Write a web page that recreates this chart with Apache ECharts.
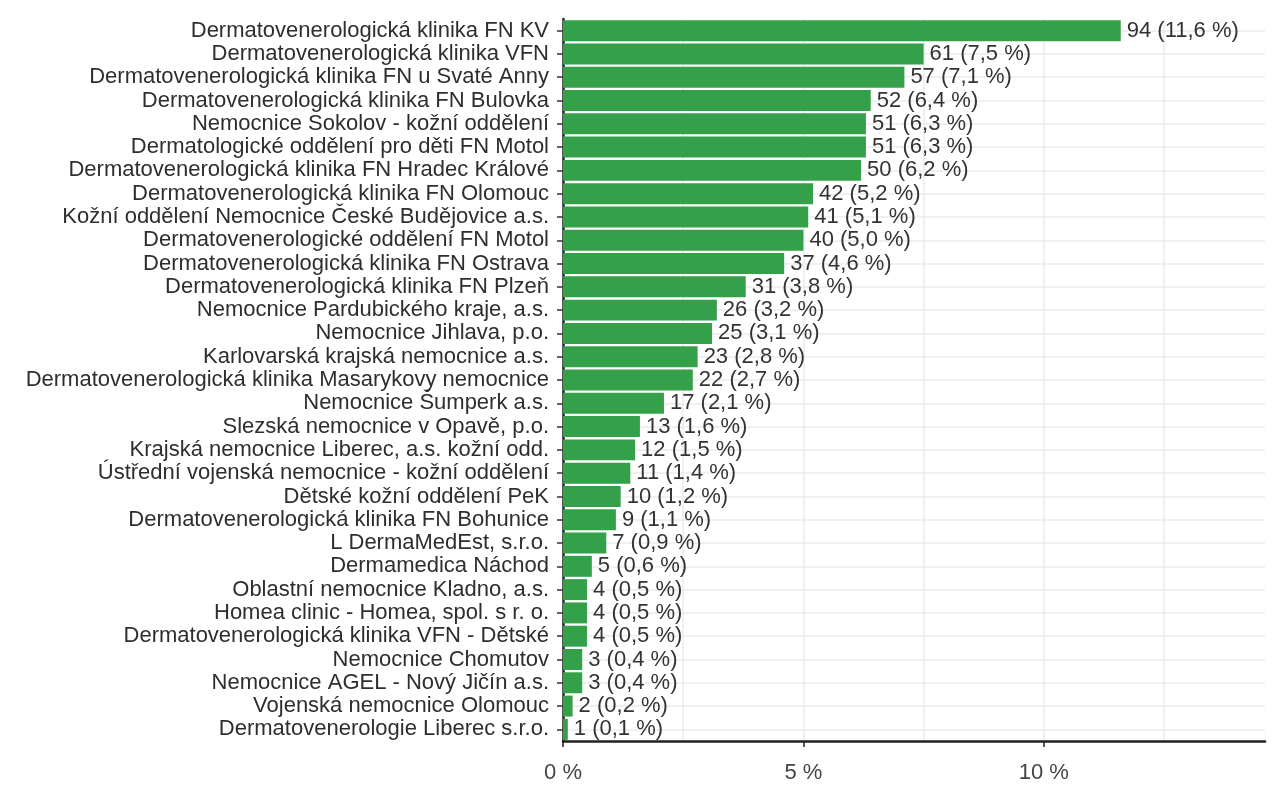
<!DOCTYPE html>
<html>
<head>
<meta charset="utf-8">
<script src="https://cdn.jsdelivr.net/npm/echarts@6/dist/echarts.min.js"></script>
<style>
  html, body { margin: 0; padding: 0; background: #fff; }
  #chart { width: 1285px; height: 800px; }
</style>
</head>
<body>
<div id="chart"></div>
<script>
// categories top to bottom
const clinics = [
  'Dermatovenerologická klinika FN KV',
  'Dermatovenerologická klinika VFN',
  'Dermatovenerologická klinika FN u Svaté Anny',
  'Dermatovenerologická klinika FN Bulovka',
  'Nemocnice Sokolov - kožní oddělení',
  'Dermatologické oddělení pro děti FN Motol',
  'Dermatovenerologická klinika FN Hradec Králové',
  'Dermatovenerologická klinika FN Olomouc',
  'Kožní oddělení Nemocnice České Budějovice a.s.',
  'Dermatovenerologické oddělení FN Motol',
  'Dermatovenerologická klinika FN Ostrava',
  'Dermatovenerologická klinika FN Plzeň',
  'Nemocnice Pardubického kraje, a.s.',
  'Nemocnice Jihlava, p.o.',
  'Karlovarská krajská nemocnice a.s.',
  'Dermatovenerologická klinika Masarykovy nemocnice',
  'Nemocnice Šumperk a.s.',
  'Slezská nemocnice v Opavě, p.o.',
  'Krajská nemocnice Liberec, a.s. kožní odd.',
  'Ústřední vojenská nemocnice - kožní oddělení',
  'Dětské kožní oddělení PeK',
  'Dermatovenerologická klinika FN Bohunice',
  'L DermaMedEst, s.r.o.',
  'Dermamedica Náchod',
  'Oblastní nemocnice Kladno, a.s.',
  'Homea clinic - Homea, spol. s r. o.',
  'Dermatovenerologická klinika VFN - Dětské',
  'Nemocnice Chomutov',
  'Nemocnice AGEL - Nový Jičín a.s.',
  'Vojenská nemocnice Olomouc',
  'Dermatovenerologie Liberec s.r.o.'
];
const counts = [94, 61, 57, 52, 51, 51, 50, 42, 41, 40, 37, 31, 26, 25, 23, 22, 17, 13, 12, 11, 10, 9, 7, 5, 4, 4, 4, 3, 3, 2, 1];
const percents = [11.6, 7.5, 7.1, 6.4, 6.3, 6.3, 6.2, 5.2, 5.1, 5.0, 4.6, 3.8, 3.2, 3.1, 2.8, 2.7, 2.1, 1.6, 1.5, 1.4, 1.2, 1.1, 0.9, 0.6, 0.5, 0.5, 0.5, 0.4, 0.4, 0.2, 0.1];
const xTicks = [0, 5, 10];

const fmt = v => v.toFixed(1).replace('.', ',');
const grey = '#ebebeb';

const myChart = echarts.init(document.getElementById('chart'));

const option = {
  animation: false,
  textStyle: { fontFamily: 'Liberation Sans, Arial, sans-serif' },
  grid: { left: 563, right: 20, top: 19, bottom: 59, containLabel: false },
  xAxis: [
    {
      // minor + major vertical grid
      type: 'value',
      min: 0,
      max: 14.6,
      interval: 2.5,
      axisLine: { show: false },
      axisTick: { show: false },
      axisLabel: { show: false },
      splitLine: {
        show: true,
        lineStyle: { color: [grey, grey, grey, grey, grey, grey, 'rgba(0,0,0,0)'], width: 1.5 }
      }
    },
    {
      // labelled axis with ticks at 0, 5, 10
      type: 'value',
      position: 'bottom',
      min: 0,
      max: 14.6,
      interval: 5,
      axisLine: { show: true, onZero: false, lineStyle: { color: '#222', width: 2.5 } },
      axisTick: { show: true, length: 6, lineStyle: { color: '#222', width: 1.5 } },
      axisLabel: {
        fontSize: 22,
        color: '#444',
        margin: 21,
        showMaxLabel: false,
        formatter: v => xTicks.includes(v) ? v + ' %' : ''
      },
      splitLine: { show: false }
    }
  ],
  yAxis: {
    type: 'category',
    inverse: true,
    data: clinics,
    axisLine: { show: true, lineStyle: { color: '#222', width: 2.5 } },
    axisTick: { show: true, alignWithLabel: true, length: 6, lineStyle: { color: '#333', width: 1.5 } },
    axisLabel: { interval: 0, fontSize: 22, color: '#2e2e2e', margin: 14 },
    splitLine: { show: false }
  },
  series: [
    {
      // horizontal grid lines through each category centre, behind the bars
      type: 'bar',
      xAxisIndex: 1,
      data: percents.map(() => 0),
      silent: true,
      z: 1,
      markLine: {
        silent: true,
        z: 1,
        symbol: 'none',
        label: { show: false },
        lineStyle: { color: grey, type: 'solid', width: 1.5 },
        data: clinics.map(c => ({ yAxis: c }))
      }
    },
    {
      type: 'bar',
      xAxisIndex: 1,
      data: percents,
      barGap: '-100%',
      barCategoryGap: '10%',
      z: 3,
      itemStyle: { color: '#35a04a' },
      label: {
        show: true,
        position: 'right',
        distance: 6,
        fontSize: 22,
        color: '#333',
        formatter: p => counts[p.dataIndex] + ' (' + fmt(percents[p.dataIndex]) + ' %)'
      }
    }
  ]
};

myChart.setOption(option);
</script>
</body>
</html>
